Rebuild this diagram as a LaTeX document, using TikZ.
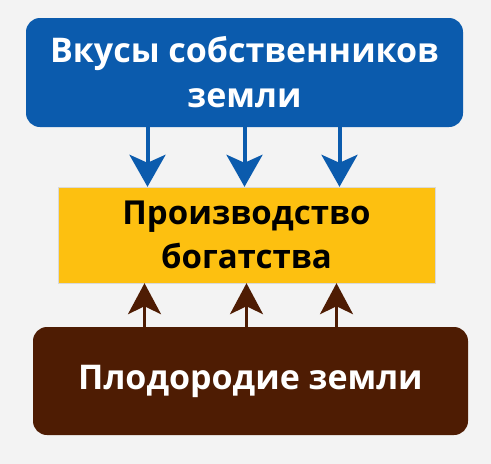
\documentclass[tikz,border=0pt]{standalone}
\usepackage{fontspec}
\setmainfont{Open Sans}
\usetikzlibrary{arrows.meta, positioning}
\definecolor{tasteblue}{HTML}{0B5BAD}
\definecolor{wealthyellow}{HTML}{FDC010}
\definecolor{soilbrown}{HTML}{4E1C03}
\definecolor{bggrey}{HTML}{F3F3F3}
\tikzset{
  tastebox/.style={rectangle, fill=tasteblue, rounded corners=14pt,
                   minimum width=437pt, minimum height=109pt, align=center,
                   text=white, font=\fontsize{34}{45}\selectfont\bfseries},
  wealthbox/.style={rectangle, fill=wealthyellow, draw=black!15, thin,
                    minimum width=377pt, minimum height=96pt, align=center,
                    text=black, font=\fontsize{33}{44}\selectfont\bfseries},
  soilbox/.style={rectangle, fill=soilbrown, rounded corners=14pt,
                  minimum width=435pt, minimum height=108pt, align=center,
                  text=white, font=\fontsize{34}{40}\selectfont\bfseries},
  downlink/.style={-{Stealth[length=32pt, width=36pt, inset=8pt]},
                   line width=4pt, draw=tasteblue},
  uplink/.style={-{Stealth[length=31pt, width=33pt, inset=8pt]},
                 line width=3pt, draw=soilbrown},
}
\begin{document}
\begin{tikzpicture}[x=1pt, y=-1pt]
  \fill[bggrey] (0,0) rectangle (491,464);
  \useasboundingbox (0,0) rectangle (491,464);

  % --- Boxes ---
  \node[tastebox]  (taste)  at (244.5, 72.5) {Вкусы собственников\\земли};
  \node[wealthbox] (wealth) at (246.5, 235)  {Производство\\богатства};
  \node[soilbox]   (soil)   at (250.5, 381)  {Плодородие земли};

  % --- Arrows ---
  \foreach \dx in {-97, 0, 95}
    \draw[downlink] ([xshift=\dx pt]taste.south) -- ([xshift=\dx pt]taste.south |- wealth.north);
  \foreach \dx in {-102, 0, 90}
    \draw[uplink] ([xshift=\dx pt]wealth.south |- soil.north) -- ([xshift=\dx pt]wealth.south);

\end{tikzpicture}
\end{document}
